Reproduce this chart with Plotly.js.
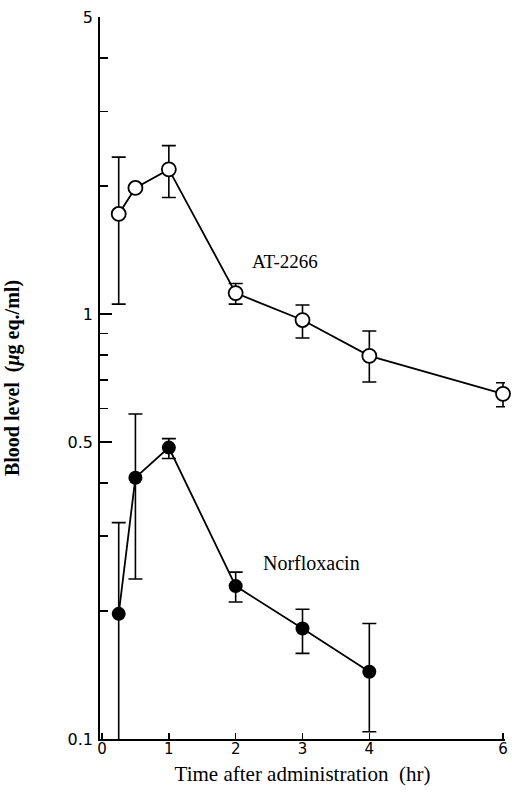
<!DOCTYPE html>
<html>
<head>
<meta charset="utf-8">
<script src="https://cdn.plot.ly/plotly-3.0.1.min.js"></script>
<style>html,body{margin:0;padding:0;background:#fff;}#chart{width:512px;height:793px;}</style>
</head>
<body>
<div id="chart"></div>
<script>
// Time (hr)
const atTime = [0.25, 0.5, 1, 2, 3, 4, 6];
const atMean = [1.72, 1.98, 2.19, 1.12, 0.968, 0.797, 0.649];
const atHigh = [2.34, 1.98, 2.49, 1.18, 1.05, 0.912, 0.689];
const atLow  = [1.055, 1.98, 1.88, 1.055, 0.878, 0.692, 0.605];

const nfTime = [0.25, 0.5, 1, 2, 3, 4];
const nfMean = [0.197, 0.412, 0.485, 0.229, 0.182, 0.144];
const nfHigh = [0.323, 0.582, 0.509, 0.247, 0.202, 0.187];
const nfLow  = [0.05, 0.238, 0.457, 0.210, 0.159, 0.104];

const xTickVals = [0, 1, 2, 3, 4, 6];
const yTickVals = [0.1, 0.5, 1, 5];
const yTickText = ['0.1', '0.5', '1', '5'];
const yMinorVals = [0.2, 0.3, 0.4, 0.6, 0.7, 0.8, 0.9, 2, 3, 4];

function errs(mean, hi, lo) {
  return {
    type: 'data', symmetric: false,
    array: mean.map((m, i) => hi[i] - m),
    arrayminus: mean.map((m, i) => m - lo[i]),
    color: '#000', thickness: 1.6, width: 7
  };
}

const traces = [
  {
    x: atTime, y: atMean, mode: 'lines+markers', name: 'AT-2266',
    line: {color: '#000', width: 1.8},
    marker: {symbol: 'circle', size: 14, color: '#fff', line: {color: '#000', width: 1.8}},
    error_y: errs(atMean, atHigh, atLow),
    cliponaxis: false
  },
  {
    x: nfTime, y: nfMean, mode: 'lines+markers', name: 'Norfloxacin',
    line: {color: '#000', width: 1.8},
    marker: {symbol: 'circle', size: 14, color: '#000', line: {color: '#000', width: 0}},
    error_y: errs(nfMean, nfHigh, nfLow),
    cliponaxis: false
  }
];

const serif = 'Liberation Serif, Times New Roman, serif';

const layout = {
  width: 512, height: 793,
  margin: {l: 100, r: 7, t: 17, b: 54},
  paper_bgcolor: '#fff', plot_bgcolor: '#fff',
  showlegend: false,
  font: {family: 'Liberation Sans, Arial, sans-serif', color: '#000', size: 14},
  xaxis: {
    range: [-0.03, 6.03],
    tickmode: 'array', tickvals: xTickVals,
    ticks: 'inside', ticklen: 6, tickwidth: 1.5, tickcolor: '#000',
    showline: true, linecolor: '#000', linewidth: 1.8,
    showgrid: false, zeroline: false,
    tickfont: {family: 'DejaVu Sans, sans-serif', size: 15, color: '#000'},
    ticklabelstandoff: -5,
    title: {text: '\u00a0\u00a0\u00a0Time after administration  (hr)', standoff: 9,
            font: {family: serif, size: 21, color: '#000'}}
  },
  yaxis: {
    type: 'log', range: [-1, Math.log10(5)],
    tickmode: 'array', tickvals: yTickVals, ticktext: yTickText,
    ticks: 'inside', ticklen: 12, tickwidth: 1.5, tickcolor: '#000',
    minor: {tickmode: 'array', tickvals: yMinorVals, ticks: 'inside', ticklen: 8, tickwidth: 1.5, tickcolor: '#000', showgrid: false},
    showline: true, linecolor: '#000', linewidth: 1.8,
    showgrid: false, zeroline: false,
    tickfont: {family: 'DejaVu Sans, sans-serif', size: 16, color: '#000'},
    ticklabelstandoff: 2,
    title: {text: '<b>Blood level  (<i>μ</i>g eq./ml)</b>', standoff: 42,
            font: {family: serif, size: 20, color: '#000'}}
  },
  annotations: [
    {x: 2.74, y: Math.log10(1.33), xref: 'x', yref: 'y', text: 'AT-2266', showarrow: false,
     font: {family: serif, size: 19, color: '#000'}},
    {x: 3.14, y: Math.log10(0.26), xref: 'x', yref: 'y', text: 'Norfloxacin', showarrow: false,
     font: {family: serif, size: 20, color: '#000'}}
  ]
};

Plotly.newPlot('chart', traces, layout, {displayModeBar: false, staticPlot: true});
</script>
</body>
</html>
